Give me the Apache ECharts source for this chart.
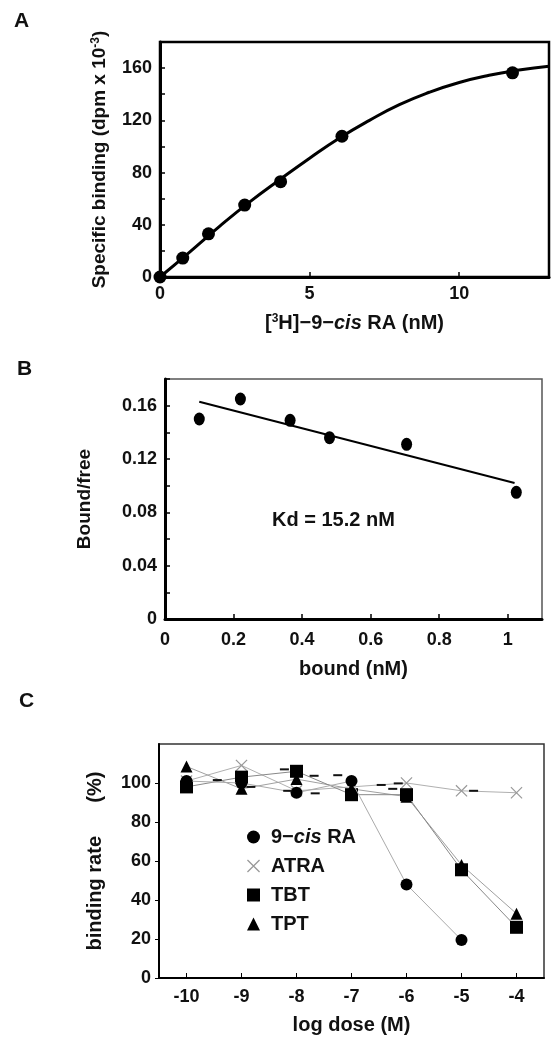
<!DOCTYPE html>
<html><head><meta charset="utf-8">
<script src="https://cdn.jsdelivr.net/npm/echarts@6/dist/echarts.min.js"></script>
<style>html,body{margin:0;padding:0;background:#fff}#c{width:552px;height:1037px}</style>
</head><body><div id="c"></div>
<script>
// ---------- Panel A: saturation binding ----------
const aConc = [0, 0.76, 1.62, 2.83, 4.03, 6.08, 11.78];
const aBinding = [0, 14.5, 33.1, 55.1, 73.0, 107.8, 156.4];
const aCurveX = [0, 1, 2, 3, 4, 5, 6, 7, 8, 9, 10, 11, 12, 13];
const aCurveY = [0, 19.3, 39, 57.5, 74.5, 91, 106.5, 120, 132, 141.5, 149, 154.5, 158.5, 161.5];
// ---------- Panel B: Scatchard ----------
const bBound = [0.10, 0.22, 0.365, 0.48, 0.705, 1.025];
const bRatio = [0.150, 0.165, 0.149, 0.136, 0.131, 0.095];
const bFitX = [0.10, 1.02];
const bFitY = [0.163, 0.102];
// ---------- Panel C: competition ----------
const cDoses = ['-10', '-9', '-8', '-7', '-6', '-5', '-4'];
const c9cisRA = [101, 100, 95, 101, 48, 19.5, null];
const cATRA = [101, 109, 96, 98, 100, 96, 95];
const cTBT = [98, 103, 106, 94, 94, 55.5, 26];
const cTPT = [108.5, 97, 102, 97, 93, 58, 33];
const cDashX = [-9.44, -8.83, -8.22, -8.16, -7.66, -7.68, -7.25, -6.46, -6.15, -6.25, -4.78];
const cDashY = [101.5, 98, 107, 96, 94.7, 103.7, 104, 99, 99.8, 97, 96];

const FF = '"Liberation Sans", Arial, sans-serif';
const TXT = '#111';
const zip = (xs, ys) => xs.map((x, i) => [x, ys[i]]);
const xIcon = 'path://M0,0.7L0.7,0L10,9.3L9.3,10Z M9.3,0L10,0.7L0.7,10L0,9.3Z';

const tickLbl = (extra) => Object.assign({fontFamily: FF, fontSize: 18, fontWeight: 'bold', color: TXT}, extra || {});
const nameStyle = (extra) => Object.assign({fontFamily: FF, fontSize: 19, fontWeight: 'bold', color: TXT}, extra || {});

const chart = echarts.init(document.getElementById('c'), null, {renderer: 'canvas'});
chart.setOption({
  animation: false,
  backgroundColor: '#fff',
  grid: [
    {left: 160, top: 42, width: 389, height: 235, show: true, borderColor: '#000', borderWidth: 2.5, outerBoundsMode: 'none'},
    {left: 165, top: 379, width: 377, height: 240, show: true, borderColor: '#555', borderWidth: 1.5, outerBoundsMode: 'none'},
    {left: 159, top: 744, width: 385, height: 234, show: true, borderColor: '#333', borderWidth: 1.5, outerBoundsMode: 'none'}
  ],
  xAxis: [
    {gridIndex: 0, type: 'value', min: 0, max: 13, interval: 5,
     axisLine: {show: true, onZero: false, lineStyle: {color: '#000', width: 3}},
     axisTick: {show: true, inside: true, length: 5, lineStyle: {color: '#000', width: 1.5}},
     axisLabel: tickLbl({margin: 8, showMaxLabel: false}),
     splitLine: {show: false},
     name: '[{s|3}H]−9−{i|cis} RA (nM)', nameLocation: 'middle', nameGap: 36,
     nameTextStyle: nameStyle({fontSize: 20, rich: {
       s: {fontFamily: FF, fontSize: 12, fontWeight: 'bold', color: TXT, verticalAlign: 'top'},
       i: {fontFamily: FF, fontSize: 20, fontWeight: 'bold', fontStyle: 'italic', color: TXT}}})},
    {gridIndex: 1, type: 'value', min: 0, max: 1.1, interval: 0.2,
     axisLine: {show: true, onZero: false, lineStyle: {color: '#000', width: 3}},
     axisTick: {show: true, inside: true, length: 5, lineStyle: {color: '#000', width: 1.5}},
     axisLabel: tickLbl({margin: 12, showMaxLabel: false, formatter: v => String(Math.round(v * 10) / 10)}),
     splitLine: {show: false},
     name: 'bound (nM)', nameLocation: 'middle', nameGap: 40, nameTextStyle: nameStyle({fontSize: 20})},
    {gridIndex: 2, type: 'category', data: cDoses, boundaryGap: true,
     axisLine: {show: true, onZero: false, lineStyle: {color: '#000', width: 2}},
     axisTick: {show: true, inside: true, alignWithLabel: true, length: 5, lineStyle: {color: '#000', width: 1}},
     axisLabel: tickLbl({margin: 10}),
     splitLine: {show: false},
     name: 'log dose (M)', nameLocation: 'middle', nameGap: 37, nameTextStyle: nameStyle({fontSize: 20})},
    {gridIndex: 2, type: 'value', min: -10.5, max: -3.5, show: false}
  ],
  yAxis: [
    {gridIndex: 0, type: 'value', min: 0, max: 180, interval: 20,
     axisLine: {show: true, onZero: false, lineStyle: {color: '#000', width: 3}},
     axisTick: {show: true, inside: true, length: 5, lineStyle: {color: '#000', width: 1.5}},
     axisLabel: tickLbl({margin: 8, formatter: v => (Math.round(v) % 40 === 0 ? String(Math.round(v)) : '')}),
     splitLine: {show: false},
     name: 'Specific binding (dpm x 10{s|-3})', nameLocation: 'middle', nameGap: 51,
     nameTextStyle: nameStyle({rich: {s: {fontFamily: FF, fontSize: 12, fontWeight: 'bold', color: TXT, verticalAlign: 'top'}}})},
    {gridIndex: 1, type: 'value', min: 0, max: 0.18, interval: 0.02,
     axisLine: {show: true, onZero: false, lineStyle: {color: '#000', width: 3}},
     axisTick: {show: true, inside: true, length: 5, lineStyle: {color: '#000', width: 1.5}},
     axisLabel: tickLbl({margin: 8, formatter: v => {
       const k = Math.round(v * 100);
       if (k % 4 !== 0) return '';
       return k === 0 ? '0' : (k / 100).toFixed(2);
     }}),
     splitLine: {show: false},
     name: 'Bound/free', nameLocation: 'middle', nameGap: 71, nameTextStyle: nameStyle()},
    {gridIndex: 2, type: 'value', min: 0, max: 120, interval: 20,
     axisLine: {show: true, onZero: false, lineStyle: {color: '#000', width: 2}},
     axisTick: {show: true, inside: false, length: 4, lineStyle: {color: '#000', width: 1}},
     axisLabel: tickLbl({margin: 8, showMaxLabel: false}),
     splitLine: {show: false},
     name: 'binding rate      (%)', nameLocation: 'middle', nameGap: 54, nameTextStyle: nameStyle({fontSize: 20})}
  ],
  legend: {
    left: 242, top: 822, orient: 'vertical', itemGap: 9, itemWidth: 13, itemHeight: 13,
    data: [
      {name: '9-cis RA', icon: 'circle'},
      {name: 'ATRA', icon: xIcon},
      {name: 'TBT', icon: 'rect'},
      {name: 'TPT', icon: 'triangle'}
    ],
    formatter: n => (n === '9-cis RA' ? '9−{i|cis} RA' : n),
    textStyle: {fontFamily: FF, fontSize: 20, fontWeight: 'bold', color: TXT, padding: [0, 0, 0, 6],
      rich: {i: {fontFamily: FF, fontSize: 20, fontWeight: 'bold', fontStyle: 'italic', color: TXT}}}
  },
  graphic: [
    {type: 'text', left: 14, top: 11, style: {text: 'A', font: 'bold 21px "Liberation Sans", Arial', fill: TXT}},
    {type: 'text', left: 17, top: 359, style: {text: 'B', font: 'bold 21px "Liberation Sans", Arial', fill: TXT}},
    {type: 'text', left: 19, top: 691, style: {text: 'C', font: 'bold 21px "Liberation Sans", Arial', fill: TXT}},
    {type: 'text', left: 272, top: 510, style: {text: 'Kd = 15.2 nM', font: 'bold 20px "Liberation Sans", Arial', fill: TXT}}
  ],
  series: [
    // Panel A
    {type: 'line', xAxisIndex: 0, yAxisIndex: 0, data: zip(aCurveX, aCurveY), smooth: true, showSymbol: false,
     lineStyle: {color: '#000', width: 3}, z: 2, silent: true},
    {type: 'scatter', xAxisIndex: 0, yAxisIndex: 0, data: zip(aConc, aBinding), symbol: 'circle', symbolSize: 13,
     itemStyle: {color: '#000', opacity: 1}, z: 3},
    // Panel B
    {type: 'line', xAxisIndex: 1, yAxisIndex: 1, data: zip(bFitX, bFitY), showSymbol: false,
     lineStyle: {color: '#000', width: 2}, z: 2},
    {type: 'scatter', xAxisIndex: 1, yAxisIndex: 1, data: zip(bBound, bRatio), symbol: 'circle', symbolSize: [11, 13],
     itemStyle: {color: '#000', opacity: 1}, z: 3},
    // Panel C
    {name: 'ATRA', type: 'line', xAxisIndex: 2, yAxisIndex: 2, data: cATRA, symbol: xIcon, symbolSize: 12,
     showAllSymbol: true, lineStyle: {color: '#b0b0b0', width: 1}, itemStyle: {color: '#999'}, z: 2},
    {name: 'TPT', type: 'line', xAxisIndex: 2, yAxisIndex: 2, data: cTPT, symbol: 'triangle', symbolSize: 12,
     showAllSymbol: true, lineStyle: {color: '#a0a0a0', width: 1}, itemStyle: {color: '#000'}, z: 3},
    {name: 'TBT', type: 'line', xAxisIndex: 2, yAxisIndex: 2, data: cTBT, symbol: 'rect', symbolSize: 13,
     showAllSymbol: true, lineStyle: {color: '#888', width: 1}, itemStyle: {color: '#000'}, z: 4},
    {name: '9-cis RA', type: 'line', xAxisIndex: 2, yAxisIndex: 2, data: c9cisRA, symbol: 'circle', symbolSize: 12,
     showAllSymbol: true, lineStyle: {color: '#aaa', width: 1}, itemStyle: {color: '#000'}, z: 5},
    {type: 'scatter', xAxisIndex: 3, yAxisIndex: 2, data: zip(cDashX, cDashY), symbol: 'rect', symbolSize: [9, 2],
     itemStyle: {color: '#111', opacity: 1}, z: 6, silent: true}
  ]
});
</script></body></html>
